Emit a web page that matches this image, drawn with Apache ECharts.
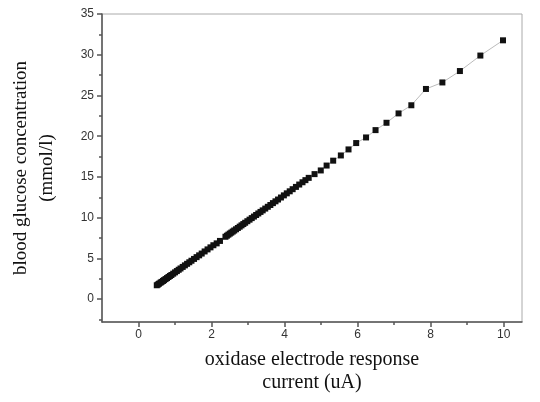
<!DOCTYPE html>
<html>
<head>
<meta charset="utf-8">
<script src="https://cdn.jsdelivr.net/npm/echarts@6/dist/echarts.min.js"></script>
<style>
  html, body { margin: 0; padding: 0; background: #fff; }
  #main { width: 540px; height: 402px; }
</style>
</head>
<body>
<div id="main"></div>
<script>
// response current (uA)
var current = [
    0.50, 0.53, 0.56, 0.60, 0.63, 0.67, 0.70, 0.74, 0.78, 0.82,
    0.86, 0.90, 0.95, 1.00, 1.05, 1.10, 1.15, 1.21, 1.27, 1.33,
    1.39, 1.45, 1.52, 1.59, 1.66, 1.73, 1.81, 1.89, 1.97, 2.05,
    2.14, 2.23, 2.38, 2.42, 2.46, 2.50, 2.54, 2.58, 2.62, 2.67,
    2.72, 2.77, 2.82, 2.87, 2.92, 2.98, 3.04, 3.10, 3.16, 3.22,
    3.28, 3.34, 3.40, 3.47, 3.54, 3.61, 3.68, 3.75, 3.82, 3.90,
    3.98, 4.06, 4.14, 4.22, 4.31, 4.40, 4.49, 4.57, 4.66, 4.82,
    4.99, 5.15, 5.33, 5.54, 5.75, 5.96, 6.23, 6.49, 6.79, 7.12,
    7.47, 7.87, 8.32, 8.80, 9.36, 9.98
];
// glucose concentration (mmol/l)
var glucose = [
    1.71, 1.80, 1.90, 2.02, 2.12, 2.24, 2.34, 2.47, 2.59, 2.72,
    2.85, 2.97, 3.13, 3.29, 3.45, 3.61, 3.77, 3.96, 4.15, 4.34,
    4.53, 4.72, 4.94, 5.16, 5.38, 5.60, 5.86, 6.11, 6.36, 6.62,
    6.85, 7.15, 7.66, 7.79, 7.92, 8.05, 8.17, 8.30, 8.43, 8.58,
    8.74, 8.90, 9.06, 9.22, 9.38, 9.57, 9.76, 9.95, 10.14, 10.33,
    10.52, 10.71, 10.90, 11.12, 11.34, 11.56, 11.79, 12.01, 12.23, 12.48,
    12.74, 12.99, 13.24, 13.50, 13.78, 14.07, 14.35, 14.61, 14.89, 15.35,
    15.80, 16.40, 17.00, 17.64, 18.38, 19.16, 19.85, 20.75, 21.65, 22.80,
    23.80, 25.80, 26.60, 28.00, 29.90, 31.77
];

var xTicks = [0, 2, 4, 6, 8, 10];
var xMinorTicks = [1, 3, 5, 7, 9];
var yTicks = [0, 5, 10, 15, 20, 25, 30, 35];
var yMinorTicks = [-2.5, 2.5, 7.5, 12.5, 17.5, 22.5, 27.5, 32.5];

var points = [];
for (var i = 0; i < current.length; i++) {
    points.push([current[i], glucose[i]]);
}

var chart = echarts.init(document.getElementById('main'));

var labelFont = {color: '#333', fontSize: 12, fontFamily: 'Liberation Sans'};

var option = {
    animation: false,
    grid: {
        left: 101, right: 18, top: 14, bottom: 80,
        show: true,
        borderColor: '#aaa',
        borderWidth: 1
    },
    xAxis: [{
        type: 'value',
        min: -1, max: 10.5,
        splitLine: {show: false},
        axisLine: {onZero: false, lineStyle: {color: '#555', width: 1.5}},
        axisTick: {show: true, customValues: xTicks, length: 5, inside: false, lineStyle: {color: '#555', width: 1.5}},
        axisLabel: {customValues: xTicks, margin: 7, ...labelFont},
        name: 'oxidase electrode response\ncurrent (uA)',
        nameLocation: 'middle',
        nameGap: 26,
        nameTextStyle: {color: '#111', fontSize: 20, fontFamily: 'Liberation Serif', lineHeight: 23}
    }, {
        type: 'value',
        min: -1, max: 10.5,
        position: 'bottom',
        offset: 0,
        splitLine: {show: false},
        axisLine: {show: false, onZero: false},
        axisTick: {show: true, customValues: xMinorTicks, length: 3, lineStyle: {color: '#555', width: 1.5}},
        axisLabel: {show: false}
    }],
    yAxis: [{
        type: 'value',
        min: -2.8, max: 35,
        splitLine: {show: false},
        axisLine: {show: true, onZero: false, lineStyle: {color: '#555', width: 1.5}},
        axisTick: {show: true, customValues: yTicks, length: 5, lineStyle: {color: '#555', width: 1.5}},
        axisLabel: {customValues: yTicks, margin: 8, ...labelFont},
        name: 'blood glucose concentration\n(mmol/l)',
        nameLocation: 'middle',
        nameGap: 42,
        nameRotate: 90,
        nameTextStyle: {color: '#111', fontSize: 19, fontFamily: 'Liberation Serif', lineHeight: 26}
    }, {
        type: 'value',
        min: -2.8, max: 35,
        position: 'left',
        offset: 0,
        splitLine: {show: false},
        axisLine: {show: false, onZero: false},
        axisTick: {show: true, customValues: yMinorTicks, length: 3, lineStyle: {color: '#555', width: 1.5}},
        axisLabel: {show: false}
    }],
    series: [{
        type: 'line',
        data: points,
        symbol: 'rect',
        symbolSize: 6,
        itemStyle: {color: '#111'},
        lineStyle: {color: '#bbb', width: 1}
    }]
};

chart.setOption(option);
</script>
</body>
</html>
